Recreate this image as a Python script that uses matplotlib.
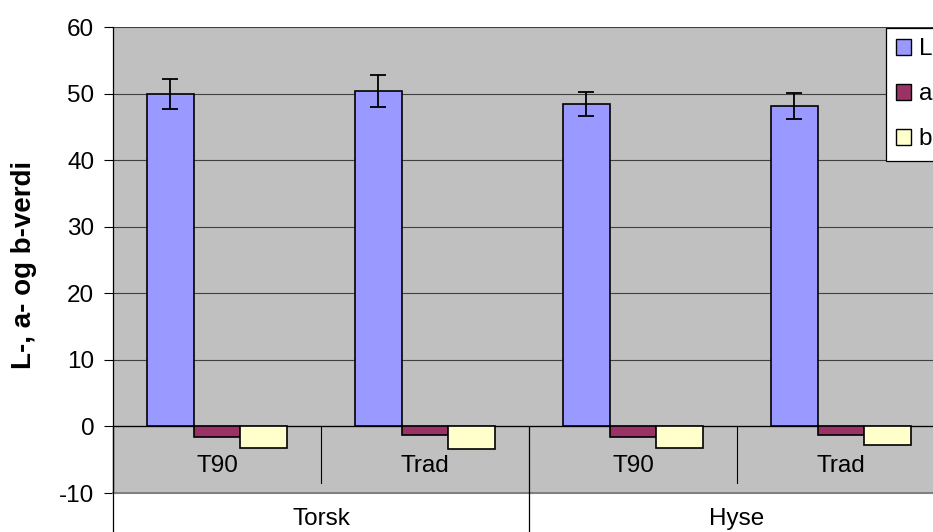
import matplotlib
matplotlib.use("Agg")
import matplotlib.pyplot as plt
from matplotlib.patches import Patch
from matplotlib.lines import Line2D
import numpy as np

plt.rcParams['font.family'] = ['Liberation Sans', 'DejaVu Sans']
plt.rcParams['axes.unicode_minus'] = False

groups = ["Torsk", "Hyse"]
subcats = ["T90", "Trad", "T90", "Trad"]
series_names = ["L", "a", "b"]
L_vals = [50.0, 50.4, 48.5, 48.2]
L_err = [2.25, 2.4, 1.8, 1.95]
a_vals = [-1.6, -1.3, -1.65, -1.35]
b_vals = [-3.2, -3.45, -3.2, -2.85]
colors = ["#9999FF", "#993366", "#FFFFCC"]

FS = 17.5
W, H = 933, 532
fig = plt.figure(figsize=(W / 100, H / 100), dpi=100)
left, right, top, bottom = 113, 945, 27, 493
ax = fig.add_axes([left / W, (H - bottom) / H, (right - left) / W, (bottom - top) / H])
ax.set_facecolor("#C0C0C0")

x = np.arange(len(subcats))
bw = 0.2244
vals = [L_vals, a_vals, b_vals]
for i, (v, c) in enumerate(zip(vals, colors)):
    ax.bar(x + (i - 1) * bw, v, width=bw, color=c, edgecolor="black", linewidth=1.2, zorder=3)
ax.errorbar(x - bw, L_vals, yerr=L_err, fmt="none", ecolor="black", elinewidth=1.3,
            capsize=5.5, capthick=1.3, zorder=4)

ax.set_ylim(-10, 60)
ax.set_xlim(-0.5, 3.5)
ax.set_yticks(range(-10, 61, 10))
ax.yaxis.grid(True, color="#404040", linewidth=0.8, zorder=0)
ax.set_axisbelow(True)
ax.axhline(0, color="black", linewidth=0.9, zorder=2)
ax.set_xticks([])
ax.tick_params(axis="y", direction="out", length=6.5, width=0.8, labelsize=FS, pad=7)
for s in ["top", "right"]:
    ax.spines[s].set_visible(False)
ax.spines["left"].set_color("black")
ax.spines["left"].set_linewidth(0.9)
ax.spines["bottom"].set_color("#808080")
ax.spines["bottom"].set_linewidth(1.5)
fig.text(24 / W, 1 - 265 / H, "L-, a- og b-verdi", rotation=90, ha="center", va="center",
         fontsize=20, fontweight="bold")

# sub-category labels and separators
for xi, lab in zip(x, subcats):
    ax.text(xi, -6.0, lab, ha="center", va="center", fontsize=FS, zorder=5)
for xs in [0.5, 2.5]:
    ax.plot([xs, xs], [0, -8.5], color="black", linewidth=0.8, zorder=5)
# group separators extending below the axes
trans = ax.get_xaxis_transform()
for xs in [-0.5, 1.5]:
    ax.add_line(Line2D([xs, xs], [1 - 400 / 466, -0.2], transform=trans, color="black",
                       linewidth=0.9, clip_on=False, zorder=5))
for gi, g in enumerate(groups):
    ax.text(gi * 2 + 0.5, -0.055, g, transform=trans, ha="center", va="center", fontsize=FS)

leg = ax.legend(handles=[Patch(facecolor=c, edgecolor="black", linewidth=1.0) for c in colors],
                labels=series_names, loc="upper left",
                bbox_to_anchor=(886 / W, 1 - 28 / H), bbox_transform=fig.transFigure,
                fontsize=FS, frameon=True, fancybox=False, framealpha=1, edgecolor="black",
                handlelength=0.62, handleheight=0.62, handletextpad=0.3, labelspacing=0.95,
                borderpad=0.42, borderaxespad=0)
leg.get_frame().set_linewidth(0.9)
leg.set_zorder(10)

fig.savefig("out.png", dpi=100)
